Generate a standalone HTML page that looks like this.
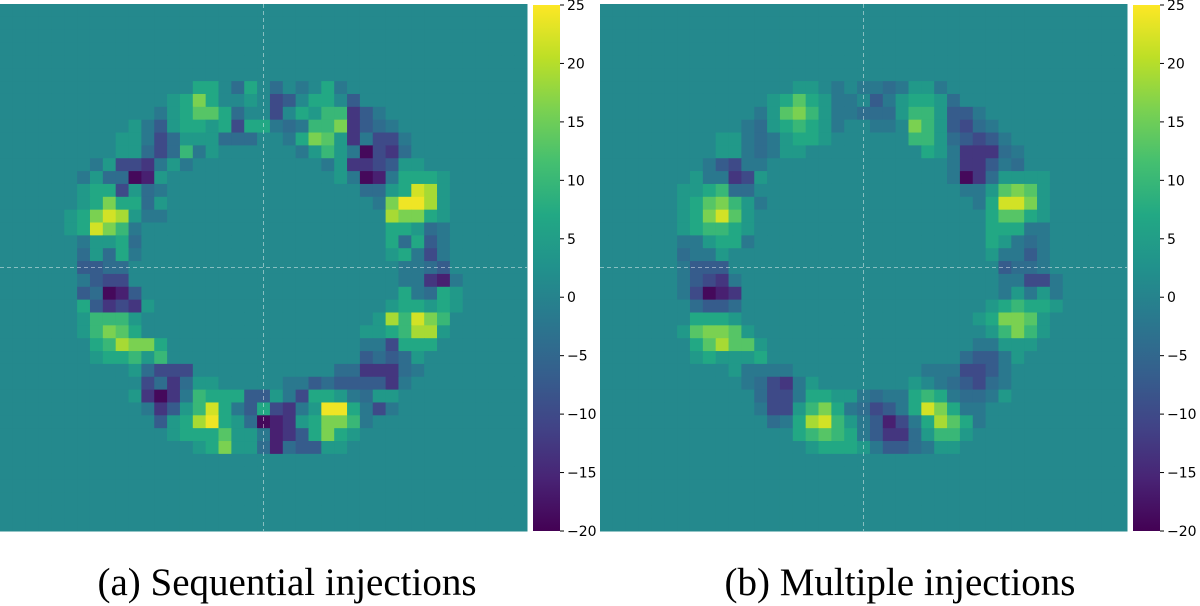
<!DOCTYPE html>
<html><head><meta charset="utf-8"><style>
html,body{margin:0;padding:0;background:#fff;}
svg{display:block;}
</style></head><body>
<svg id="fig" width="1200" height="606" viewBox="0 0 1200 606" xmlns="http://www.w3.org/2000/svg">
<defs>
<linearGradient id="vir" x1="0" y1="1" x2="0" y2="0">
<stop offset="0" stop-color="#440154"/><stop offset="0.1" stop-color="#482475"/><stop offset="0.2" stop-color="#414487"/><stop offset="0.3" stop-color="#355f8d"/><stop offset="0.4" stop-color="#2a788e"/><stop offset="0.5" stop-color="#21918c"/><stop offset="0.6" stop-color="#22a884"/><stop offset="0.7" stop-color="#44bf70"/><stop offset="0.8" stop-color="#7ad151"/><stop offset="0.9" stop-color="#bddf26"/><stop offset="1" stop-color="#fde725"/>
</linearGradient>
</defs>
<g id="panelA"></g>
<g id="panelB"></g>
<text x="287" y="595" text-anchor="middle" font-family="Liberation Serif, serif" font-size="39">(a) Sequential injections</text>
<text x="900" y="595" text-anchor="middle" font-family="Liberation Serif, serif" font-size="39">(b) Multiple injections</text>
</svg>
<script>
const charValues = {A:-19,B:-16,C:-13,D:-10,E:-7,F:-4,G:-2,'.':1,h:4,i:7,j:10,k:13,l:16,m:19,n:22,o:24};
const gridSize = 41;
const colorTicks = [25,20,15,10,5,0,-5,-10,-15,-20];
const vMin = -20, vMax = 25;
// [row, startCol, cells]
const seqRows = [
[6,15,"ii.Fi.F.G.iG."],[7,13,"hili..h.DE.ii.E"],[8,11,".GhikkiF..D.ihjjCEG"],[9,10,"hGEhiihiDiiGFGjjlCEFG"],
[10,9,"hhGDFhhhFFF..GilkhCGDDG"],[11,9,"hhFDFjGh......GhjhGADCF"],[12,7,"GhDDCGhG..........GhCCDEhh"],
[13,6,"GhFFABh.............hGABGiiih"],[14,6,"hiiDhFG...............FFhinmh"],[15,6,"hiliiFh................Gloomh"],
[16,5,"hilnmhGG.................mllih"],[17,5,"hinljG...................iihFG"],[18,6,"GhhiF...................iFiEG"],
[19,6,"FhFiG...................hiGDG"],[20,6,"EEFF.....................GGFE"],[21,6,"GEDD.....................GGCBG"],
[22,6,"EFABE....................iGFih"],[23,6,"iECDCh..................hiihih"],[24,6,"hjjjh..................hmjnlj"],
[25,6,"hjlki.................hhijmmh"],[26,7,"ijmlli...............GGDiii"],[27,7,"hiijhj...............EFEFh"],
[28,10,"hFDDD...........FFCCCFG"],[29,11,"DFCFhh.....GGEFEEEECG"],[30,10,"hCACGjiiiEEhGDiihGFhh"],
[31,11,"GCEhjniGEiDCGhooiGDG"],[32,12,"EhimoihFABChilljG"],[33,13,"hiiikhhGBCEilih"],[34,15,"hilhhFBFEEhh"]
];
const mulRows = [
[6,15,"hh.G.GGFGhhG"],[7,13,"hikihGG.EGhiihF"],[8,12,"GhkljhGGFFFhjjhEEG"],[9,11,"GFhijihG..GG.ljhEDFG"],
[10,9,"hhGFGhiih......jjhFEDEG"],[11,9,"hhGFGhh.........ihGCCCFG"],[12,8,"GEDGG..............GCCEGF"],
[13,7,"hGGCDh..............GACFhhhh"],[14,6,"hhijFF................GGhklkh"],[15,6,"hikljhG................Ginnlh"],
[16,6,"hilnkh..................ikkih"],[17,6,"hijjih..................iiiGG"],[18,6,"GGhiiG..................ihGFG"],
[19,6,"FGGh....................hGGEG"],[20,6,"GEEE.....................EFFG"],[21,6,"GEDCG....................GGDDG"],
[22,6,"GDABC....................GhGhG"],[23,7,"FEEF...................hijiih"],[24,7,"iiih..................hillkh"],
[25,6,"hkllkh..................hjljh"],[26,7,"ikmkkh................GGhhh"],[27,7,"hihhhi...............FEEGh"],
[28,10,"hGGGG..........GGGDDEG"],[29,11,"GFDCGh.......h.GFEDFG"],[30,12,"FDDGiihhGFGGijiGFFGh"],
[31,12,"GDDhjliGFDEGinliGG"],[32,13,"FGimnjhGEBDGimkiG"],[33,15,"ijkjiGECCFhjjh"],[34,16,"hiiihGEEFGhh"]
];
const stops=[[68,1,84],[72,36,117],[65,68,135],[53,95,141],[42,120,142],[33,145,140],[34,168,132],[68,191,112],[122,209,81],[189,223,38],[253,231,37]];
function viridis(v){let t=(v-vMin)/(vMax-vMin);t=Math.max(0,Math.min(1,t))*10;const i=Math.min(9,Math.floor(t)),f=t-i;const a=stops[i],b=stops[i+1];
return 'rgb('+a.map((x,k)=>Math.round(x+(b[k]-x)*f)).join(',')+')';}
const NS='http://www.w3.org/2000/svg';
function mk(tag,attrs,parent){const e=document.createElementNS(NS,tag);for(const k in attrs)e.setAttribute(k,attrs[k]);parent.appendChild(e);return e;}
function drawPanel(g,x0,rows,tag){
  const y0=4,S=527,cs=S/gridSize;
  const grid=[];for(let r=0;r<gridSize;r++){grid.push(new Array(gridSize).fill(charValues['.']));}
  rows.forEach(([r,c0,s])=>{for(let k=0;k<s.length;k++){if(c0+k<gridSize)grid[r][c0+k]=charValues[s[k]];}});
  for(let r=0;r<gridSize;r++)for(let c=0;c<gridSize;c++){
    const cell=mk('rect',{x:(x0+c*cs).toFixed(2),y:(y0+r*cs).toFixed(2),width:(cs+0.5).toFixed(2),height:(cs+0.5).toFixed(2),fill:viridis(grid[r][c])},g);
    
    
  }
  const vl=mk('line',{x1:x0+S/2,y1:y0,x2:x0+S/2,y2:y0+S,stroke:'rgba(255,255,255,0.45)','stroke-width':1,'stroke-dasharray':'4,3'},g);
  
  
  const hl=mk('line',{x1:x0,y1:y0+S/2,x2:x0+S,y2:y0+S/2,stroke:'rgba(255,255,255,0.45)','stroke-width':1,'stroke-dasharray':'4,3'},g);
  
  
  const cbx=x0+533,cbTop=5,cbBot=531;
  const cb=mk('rect',{x:cbx,y:cbTop,width:27,height:cbBot-cbTop,fill:'url(#vir)'},g);
  
  
  colorTicks.forEach(v=>{
    const y=cbBot-(v-vMin)/(vMax-vMin)*(cbBot-cbTop);
    const tk=mk('line',{x1:cbx+27,y1:y,x2:cbx+31,y2:y,stroke:'#000','stroke-width':1},g);
    
    
    const t=mk('text',{x:cbx+34,y:y+5,'font-family':'DejaVu Sans, sans-serif','font-size':14,fill:'#000'},g);
    t.textContent=String(v).replace('-','\u2212');
    
    
  });
}
drawPanel(document.getElementById('panelA'),0,seqRows,'sequential');
drawPanel(document.getElementById('panelB'),600,mulRows,'multiple');
</script>
</body></html>
